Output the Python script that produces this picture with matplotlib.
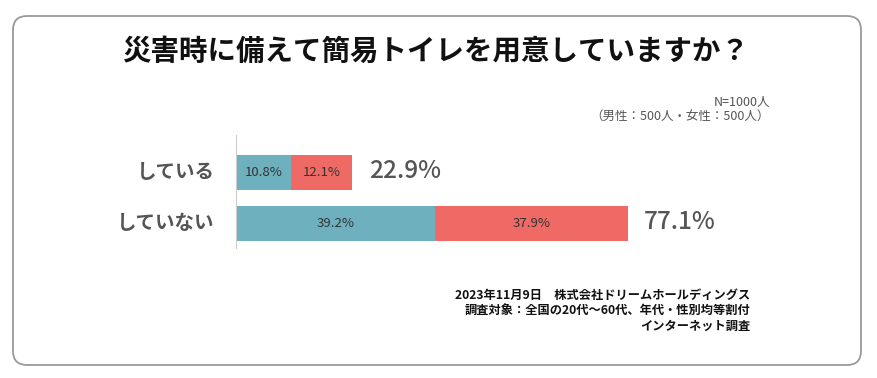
import matplotlib
matplotlib.use('Agg')
import matplotlib.pyplot as plt
from matplotlib.patches import FancyBboxPatch
from matplotlib.transforms import IdentityTransform

plt.rcParams['font.family'] = ['Noto Sans CJK JP', 'DejaVu Sans']

categories = ['している', 'していない']
male = [10.8, 39.2]
female = [12.1, 37.9]
totals = [22.9, 77.1]

title = '災害時に備えて簡易トイレを用意していますか？'
note_n = 'N=1000人\n（男性：500人・女性：500人）'
source = '2023年11月9日　株式会社ドリームホールディングス\n調査対象：全国の20代～60代、年代・性別均等割付\nインターネット調査'

W, H = 878, 378
fig = plt.figure(figsize=(W / 100, H / 100), dpi=100)

# rounded frame in pixel coords
frame = FancyBboxPatch((13, H - 365), 848, 349, boxstyle='round,pad=0,rounding_size=14',
                       transform=IdentityTransform(), fill=False, ec='#9a9a9a', lw=1.3)
fig.patches.append(frame)

# axes placed in pixels: left 236, right 744 (0..100%), top 135, bottom 248
ax = fig.add_axes([236 / W, 1 - 248 / H, (744 - 236) / W, (248 - 135) / H])
ypos = range(len(categories))
ax.barh(ypos, male, height=0.69, color='#6fb0bf')
ax.barh(ypos, female, left=male, height=0.69, color='#ef6a64')
ax.set_xlim(0, 100)
ax.set_ylim(1.48, -0.735)

for i in ypos:
    ax.text(male[i] / 2, i, f'{male[i]}%', ha='center', va='center', fontsize=9.5, color='#333333')
    ax.text(male[i] + female[i] / 2, i, f'{female[i]}%', ha='center', va='center', fontsize=9.5, color='#333333')
    ax.text(totals[i] + 3.2, i - 0.02, f'{totals[i]}%', ha='left', va='center', fontsize=17.5,
            color='#555555', fontweight='medium')
    ax.text(-4.2, i, categories[i], ha='right', va='center', fontsize=14, color='#555555',
            fontweight='bold')

for s in ['top', 'right', 'bottom']:
    ax.spines[s].set_visible(False)
ax.spines['left'].set_color('#cccccc')
ax.set_xticks([])
ax.set_yticks([])

fig.text(436 / W, 1 - 52 / H, title, ha='center', va='center', fontsize=20.5, fontweight='bold',
         color='#111111')
fig.text(770 / W, 1 - 110 / H, note_n, ha='right', va='center', fontsize=9, color='#555555',
         linespacing=1.15)
fig.text(750 / W, 1 - 311 / H, source, ha='right', va='center', fontsize=8.8, fontweight='bold',
         color='#111111', linespacing=1.25)

fig.savefig('out.png', dpi=100)
